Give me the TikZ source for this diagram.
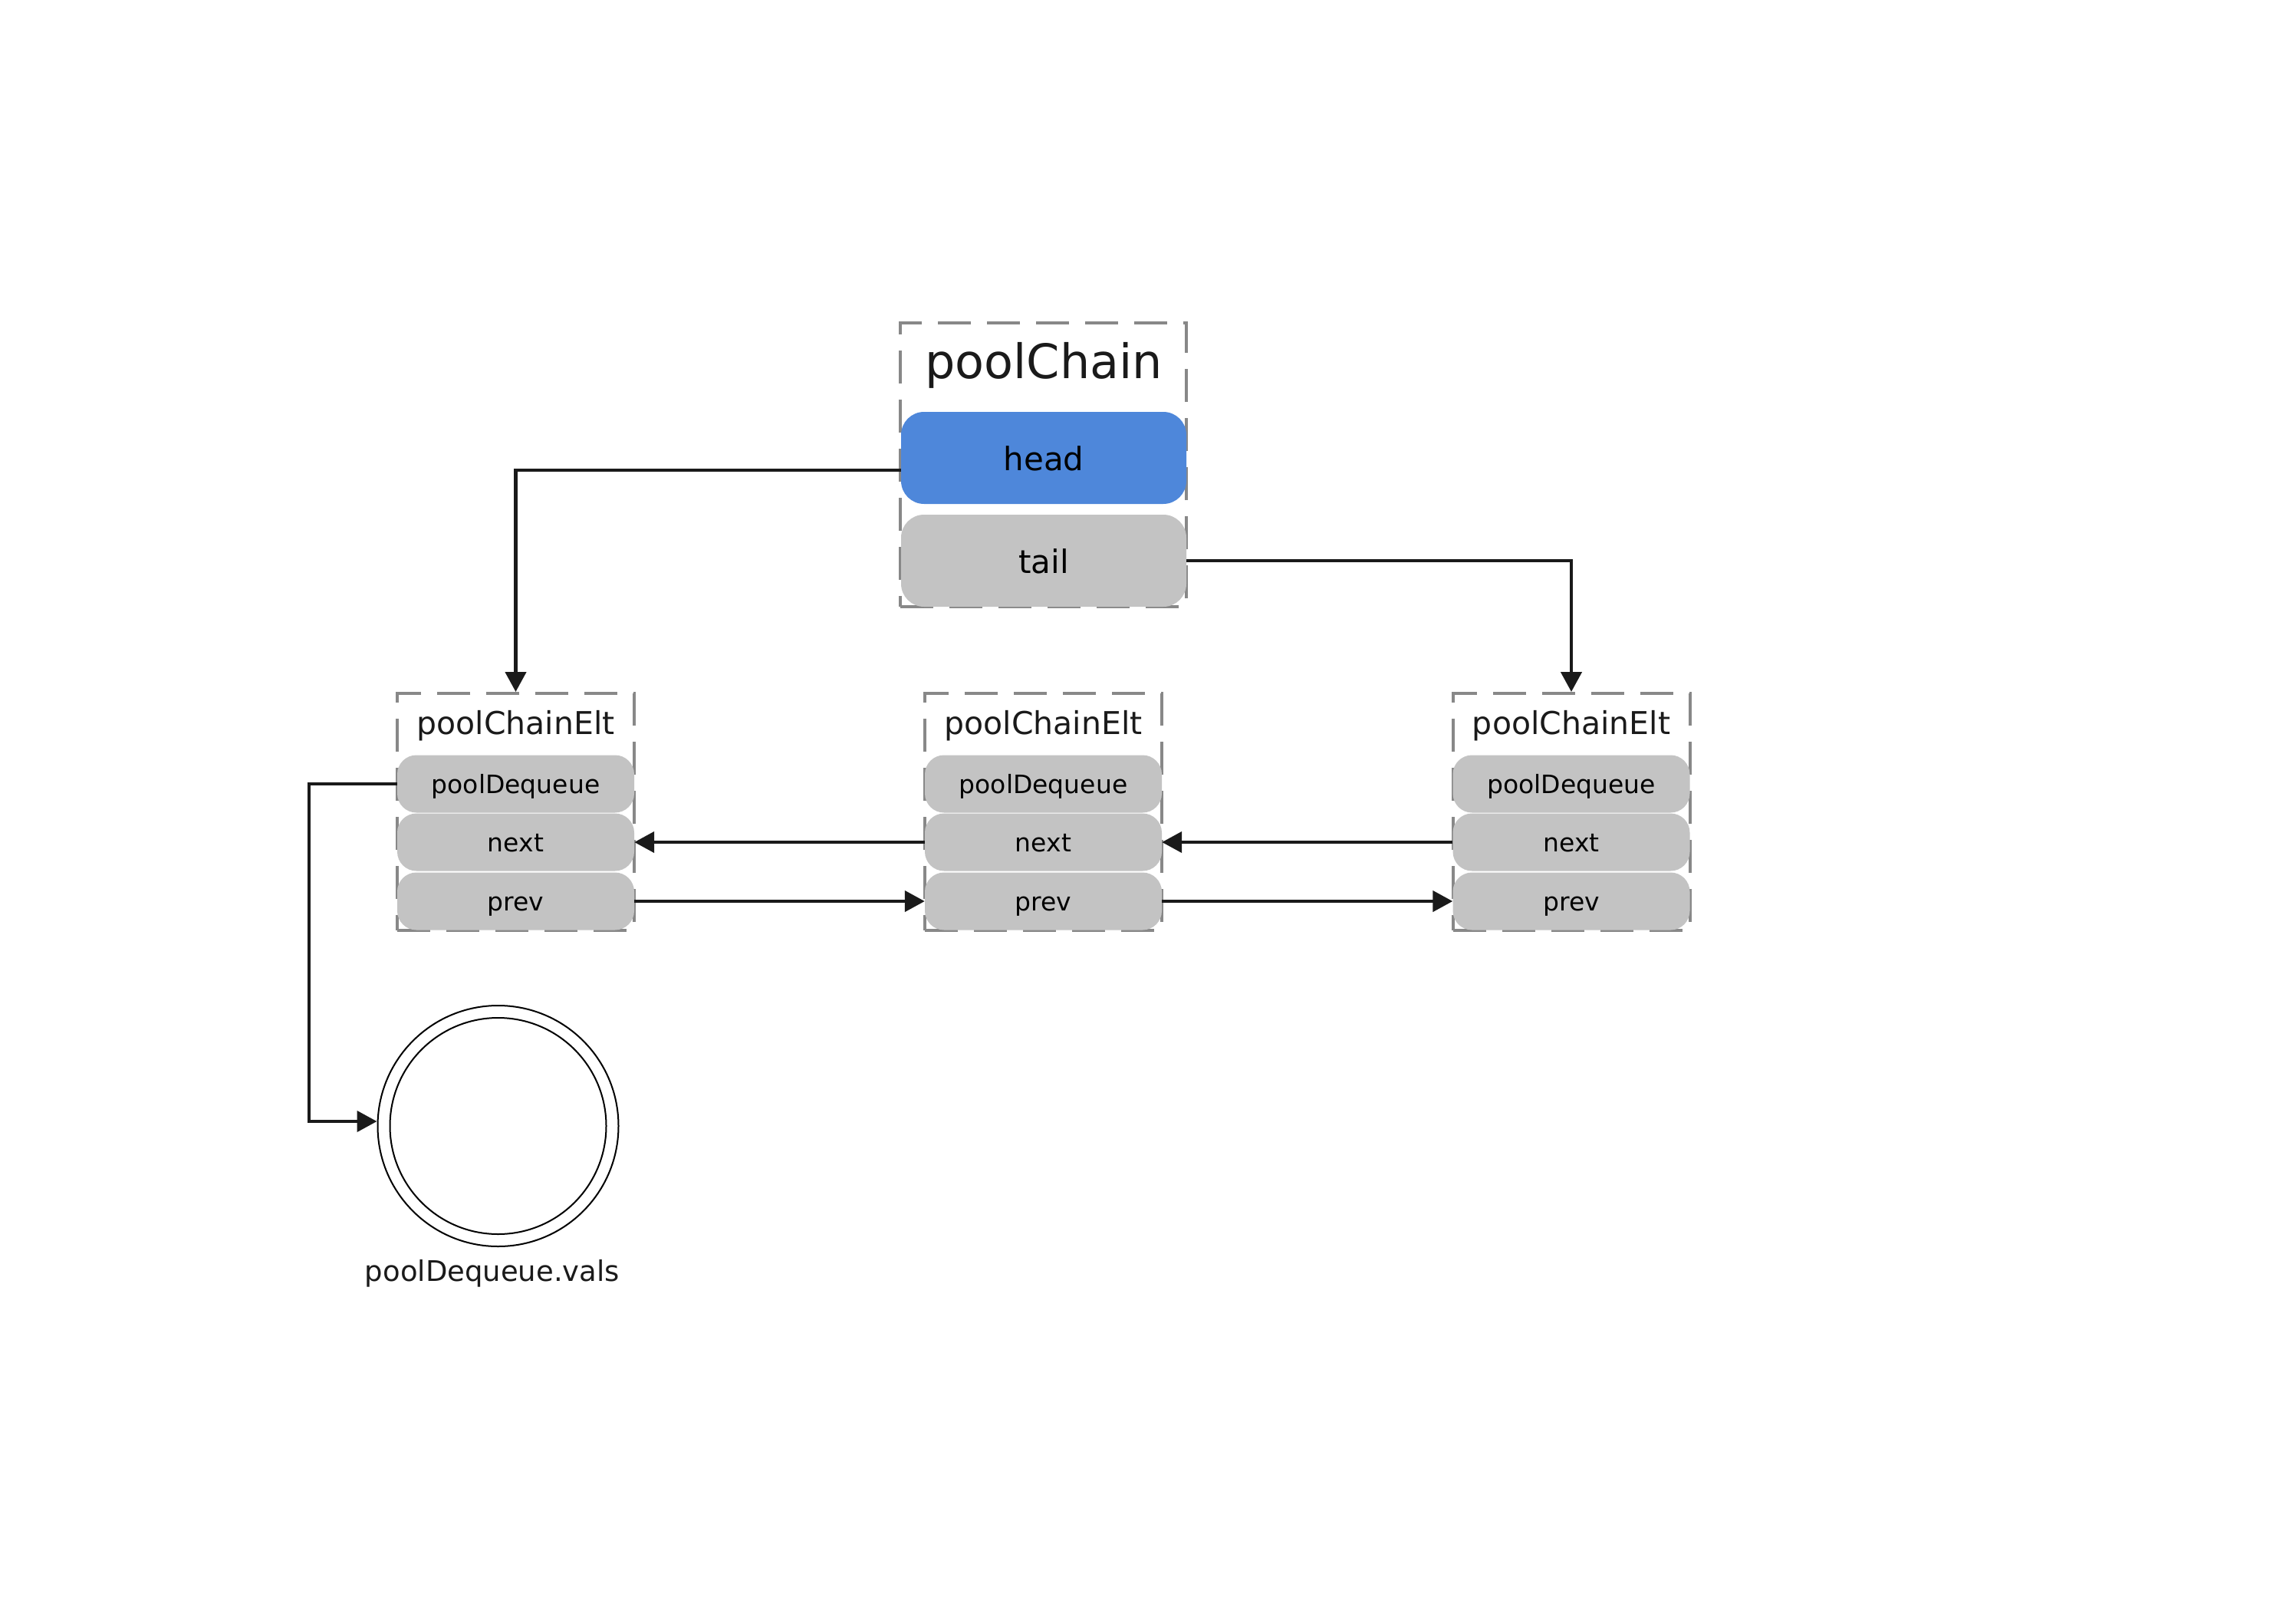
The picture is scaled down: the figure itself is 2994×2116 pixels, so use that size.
\documentclass[tikz,border=0pt]{standalone}
\usepackage{fontspec}
\setmainfont{DejaVu Sans}
\usetikzlibrary{arrows.meta}
\definecolor{headblue}{HTML}{4E87DA}
\definecolor{fieldgray}{HTML}{C3C3C3}
\definecolor{framegray}{HTML}{888888}
\definecolor{ink}{HTML}{1A1A1A}
\begin{document}
\begin{tikzpicture}[x=1pt,y=-1pt,
  frame/.style={draw=framegray, line width=4pt, dash pattern=on 43pt off 21pt, inner sep=0pt},
  field/.style={fill=fieldgray, rounded corners=25pt, inner sep=0pt, minimum width=309pt,
    minimum height=75pt, text height=24pt, text depth=0pt, font=\fontsize{33}{38}\selectfont, text=black},
  bigfield/.style={field, rounded corners=30pt, minimum width=372pt, minimum height=120pt,
    text height=33pt, font=\fontsize{42}{48}\selectfont},
  title/.style={anchor=base, text=ink, inner sep=0pt},
  conn/.style={draw=ink, line width=4.5pt},
  arr/.style={conn, -{Triangle[length=26pt,width=27pt]}},
]
\useasboundingbox (0,0) rectangle (2994,2116);

% poolChain
\node[frame, minimum width=373pt, minimum height=370pt] (chain) at (1360.5,606) {};
\node[title, font=\fontsize{62}{70}\selectfont] (chaintitle) at (1361,493) {poolChain};
\node[bigfield, fill=headblue] (head) at (1361,597) {head};
\node[bigfield] (tail) at (1361,731) {tail};

% elements
\foreach \i/\x in {1/672.5, 2/1360.5, 3/2049}{
  \node[frame, minimum width=309pt, minimum height=309pt] (elt\i) at (\x,1058.5) {};
  \node[title, font=\fontsize{41}{48}\selectfont] (elttitle\i) at (\x,957) {poolChainElt};
  \node[field] (pd\i) at (\x,1022) {poolDequeue};
  \node[field] (nx\i) at (\x,1098) {next};
  \node[field] (pv\i) at (\x,1175) {prev};
}

% ring
\node[circle, draw=black, line width=2pt, minimum size=314pt, inner sep=0pt] (circ) at (649.5,1468) {};
\draw[line width=2pt] (circ.center) circle[radius=141pt];
\node[title, font=\fontsize{37}{42}\selectfont] (circlabel) at (642,1670) {poolDequeue.vals};

% connectors
\draw[arr] ([yshift=-16pt]head.west) -| (elt1.north);
\draw[arr] (tail.east) -| (elt3.north);
\draw[arr] (pd1.west) -- ++(-115,0) |- ([yshift=6pt]circ.west);
\draw[arr] (nx2.west) -- (nx1.east);
\draw[arr] (nx3.west) -- (nx2.east);
\draw[arr] (pv1.east) -- (pv2.west);
\draw[arr] (pv2.east) -- (pv3.west);
\end{tikzpicture}
\end{document}
